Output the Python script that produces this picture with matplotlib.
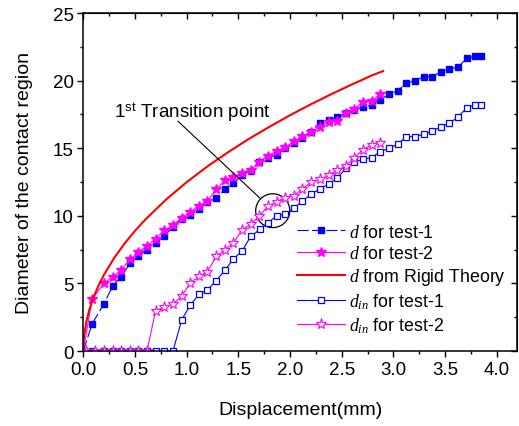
import matplotlib
matplotlib.use("Agg")
import matplotlib.pyplot as plt
from matplotlib.patches import Ellipse
from matplotlib.ticker import MultipleLocator

plt.rcParams['font.family'] = ['Liberation Sans', 'DejaVu Sans']
plt.rcParams['mathtext.fontset'] = 'custom'
plt.rcParams['mathtext.rm'] = 'Liberation Sans'
plt.rcParams['mathtext.it'] = 'Liberation Serif:italic'

# d for test-1
x_d1 = [0, 0.085, 0.2, 0.284, 0.368, 0.452, 0.533, 0.616, 0.70, 0.784,
        0.868, 0.952, 1.035, 1.12, 1.2, 1.287, 1.371, 1.452, 1.536, 1.62,
        1.703, 1.787, 1.871, 1.955, 2.04, 2.12, 2.206, 2.29, 2.374, 2.458,
        2.54, 2.622, 2.706, 2.79, 2.874, 2.958, 3.042, 3.125, 3.21, 3.294,
        3.377, 3.461, 3.541, 3.626, 3.71, 3.793, 3.845]
y_d1 = [0, 2.0, 3.5, 4.8, 5.5, 6.5, 7.0, 7.5, 8.0, 8.5,
        9.2, 9.8, 10.05, 10.5, 11.0, 11.3, 12.0, 12.4, 13.0, 13.35,
        14.0, 14.3, 14.5, 15.0, 15.4, 15.75, 16.2, 16.85, 17.1, 17.3,
        17.6, 17.8, 18.05, 18.2, 18.6, 19.0, 19.25, 19.8, 20.0, 20.3,
        20.3, 20.65, 20.85, 21.0, 21.65, 21.8, 21.8]

# d for test-2
x_d2 = [0, 0.085, 0.2, 0.284, 0.368, 0.452, 0.533, 0.616, 0.70, 0.784,
        0.868, 0.952, 1.035, 1.12, 1.2, 1.287, 1.371, 1.452, 1.536, 1.62,
        1.703, 1.787, 1.871, 1.955, 2.04, 2.12, 2.206, 2.29, 2.374, 2.458,
        2.54, 2.622, 2.706, 2.79, 2.874]
y_d2 = [0, 3.85, 5.0, 5.5, 6.0, 6.8, 7.3, 7.8, 8.3, 8.95,
        9.3, 9.86, 10.3, 10.75, 11.1, 11.95, 12.65, 12.85, 13.2, 13.4,
        14.0, 14.45, 14.8, 15.07, 15.5, 15.9, 16.2, 16.6, 16.95, 17.03,
        17.6, 17.9, 18.44, 18.5, 19.0]

# d from rigid theory
x_rig = [0, 0.002, 0.005, 0.01, 0.03, 0.06, 0.1, 0.15, 0.2, 0.3, 0.4, 0.5,
         0.6, 0.8, 1.0, 1.2, 1.4, 1.6, 1.8, 2.0, 2.2, 2.4, 2.6, 2.8, 2.9]
y_rig = [0, 0.57, 0.89, 1.26, 2.19, 3.1, 4.0, 4.89, 5.64, 6.9, 7.96, 8.89,
         9.72, 11.2, 12.49, 13.65, 14.7, 15.68, 16.58, 17.44, 18.24, 19.0,
         19.72, 20.41, 20.7]

# d_in for test-1
x_in1 = [0, 0.085, 0.2, 0.284, 0.368, 0.452, 0.533, 0.616, 0.70, 0.784,
         0.868, 0.952, 1.035, 1.12, 1.2, 1.287, 1.371, 1.452, 1.536, 1.62,
         1.71, 1.787, 1.871, 1.955, 2.04, 2.12, 2.206, 2.29, 2.374, 2.458,
         2.54, 2.622, 2.706, 2.79, 2.874, 2.958, 3.042, 3.125, 3.21, 3.294,
         3.377, 3.461, 3.541, 3.626, 3.71, 3.793, 3.845]
y_in1 = [0, 0, 0, 0, 0, 0, 0, 0, 0, 0,
         0, 2.3, 3.4, 4.2, 4.53, 5.2, 6.0, 6.8, 7.4, 8.48,
         9.0, 9.5, 10.0, 10.13, 10.55, 11.1, 11.6, 12.0, 12.35, 12.8,
         13.5, 13.95, 14.2, 14.3, 14.75, 15.0, 15.3, 15.85, 15.85, 16.05,
         16.25, 16.6, 16.85, 17.3, 18.0, 18.2, 18.2]

# d_in for test-2
x_in2 = [0.03, 0.116, 0.2, 0.284, 0.368, 0.452, 0.533, 0.616, 0.70, 0.784,
         0.868, 0.952, 1.035, 1.12, 1.2, 1.287, 1.371, 1.452, 1.536, 1.62,
         1.703, 1.787, 1.871, 1.955, 2.04, 2.12, 2.206, 2.29, 2.374, 2.458,
         2.54, 2.622, 2.706, 2.79, 2.874]
y_in2 = [0, 0, 0, 0, 0, 0, 0, 0, 2.98, 3.23,
         3.48, 4.04, 5.05, 5.52, 5.87, 7.0, 7.5, 8.0, 8.95, 9.4,
         10.0, 10.7, 11.05, 11.35, 11.5, 12.0, 12.5, 12.7, 13.0, 13.4,
         13.65, 14.3, 14.9, 15.24, 15.36]

fig = plt.figure(figsize=(5.19, 4.27), dpi=100)
ax = fig.add_axes([0.1605, 0.1756, 0.8364, 0.7916])

ax.plot(x_d1, y_d1, color='#0000ff', lw=0.8, dashes=(10, 3), marker='s',
        ms=4.5, mfc='#0000ff', mec='#0000ff', label=r'$d$ for test-1')
ax.plot(x_d2, y_d2, color='#ff00ff', lw=0.8, marker='*', ms=7,
        mfc='#ff00ff', mec='#ff00ff', label=r'$d$ for test-2')
ax.plot(x_rig, y_rig, color='#ff0000', lw=1.5, label=r'$d$ from Rigid Theory')
ax.plot(x_in1, y_in1, color='#0000ff', lw=0.8, marker='s', ms=4.5,
        mfc='white', mec='#0000ff', mew=0.9, label=r'$d_{in}$ for test-1')
ax.plot(x_in2, y_in2, color='#ff00ff', lw=0.8, marker='*', ms=8,
        mfc='white', mec='#ff00ff', mew=0.8, label=r'$d_{in}$ for test-2')

ax.set_xlim(0, 4.2)
ax.set_ylim(0, 25)
ax.xaxis.set_major_locator(MultipleLocator(0.5))
ax.xaxis.set_minor_locator(MultipleLocator(0.25))
ax.yaxis.set_major_locator(MultipleLocator(5))
ax.yaxis.set_minor_locator(MultipleLocator(2.5))
ax.xaxis.set_major_formatter(lambda v, p: f'{v:.1f}')
ax.tick_params(which='major', direction='out', length=4, width=1,
               labelsize=13.5, pad=3)
ax.tick_params(which='minor', direction='out', length=2.5, width=1)
for s in ax.spines.values():
    s.set_linewidth(1.1)

top = ax.secondary_xaxis('top')
top.xaxis.set_major_locator(MultipleLocator(0.5))
top.xaxis.set_minor_locator(MultipleLocator(0.25))
top.tick_params(which='major', direction='in', length=4, width=1, labeltop=False)
top.tick_params(which='minor', direction='in', length=2.5, width=1)
right = ax.secondary_yaxis('right')
right.yaxis.set_major_locator(MultipleLocator(5))
right.yaxis.set_minor_locator(MultipleLocator(2.5))
right.tick_params(which='major', direction='in', length=4, width=1, labelright=False)
right.tick_params(which='minor', direction='in', length=2.5, width=1)

ax.set_xlabel('Displacement(mm)', fontsize=14, labelpad=17)
ax.set_ylabel('Diameter of the contact region', fontsize=14, labelpad=14)

ax.text(1.05, 17.7, r'1$^{\mathrm{st}}$ Transition point', fontsize=13.5,
        ha='center', va='center')
ax.annotate('', xy=(1.71, 11.3), xytext=(0.916, 17.0),
            arrowprops=dict(arrowstyle='-', color='black', lw=0.8,
                            shrinkA=0, shrinkB=0))
ax.add_patch(Ellipse((1.833, 10.38), 0.33, 2.5, fill=False,
                     edgecolor='black', lw=0.9))

ax.legend(loc='upper left', bbox_to_anchor=(0.492, 0.377), frameon=False,
          fontsize=12.8, numpoints=1, handlelength=2.7, handletextpad=0.25,
          labelspacing=0.24, borderpad=0, borderaxespad=0)

fig.savefig('out.png', dpi=100)
